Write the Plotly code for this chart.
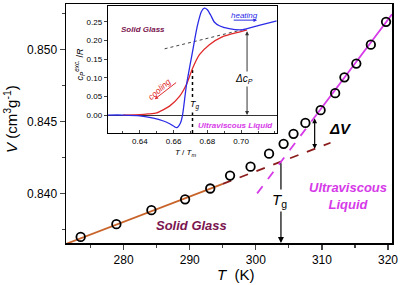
import plotly.graph_objects as go

# ---------------- main panel data ----------------
T_pts = [273.5, 278.9, 284.2, 289.3, 293.1, 296.1, 299.2, 302.0, 304.2, 305.7,
         307.5, 309.8, 312.0, 313.4, 315.2, 317.4, 319.7]
V_pts = [0.83697, 0.83786, 0.83883, 0.83959, 0.84034, 0.84124, 0.84186, 0.84276, 0.84345, 0.84414,
         0.84490, 0.84579, 0.84697, 0.84807, 0.84903, 0.85034, 0.85193]

glass_solid_T = [271.3, 295.0]
glass_solid_V = [0.83649, 0.84066]
glass_dash_T = [295.0, 311.3]
glass_dash_V = [0.84066, 0.84352]
liq_dash_T = [300.2, 309.2]
liq_dash_V = [0.84000, 0.84549]
liq_solid_T = [309.2, 320.6]
liq_solid_V = [0.84549, 0.85245]

Tg_main = 303.8
Vg_main = 0.8422
dV_T = 308.9
dV_low, dV_high = 0.84310, 0.84531

x_ticks = [280, 290, 300, 310, 320]
y_ticks = [0.840, 0.845, 0.850]

# ---------------- inset data ----------------
heat_x = [0.621, 0.630, 0.640, 0.648, 0.654, 0.658, 0.6618, 0.6640, 0.6653, 0.6676, 0.6712,
          0.6741, 0.6765, 0.6782, 0.6800, 0.6820, 0.6841, 0.6871, 0.6929, 0.7006, 0.7106, 0.7212]
heat_y = [0.0, 0.0, -0.002, -0.008, -0.016, -0.024, -0.034, -0.022, 0.0, 0.08, 0.17,
          0.24, 0.278, 0.287, 0.283, 0.268, 0.250, 0.240, 0.232, 0.229, 0.241, 0.253]
cool_x = [0.630, 0.640, 0.645, 0.650, 0.6576, 0.6635, 0.6676, 0.6712, 0.6753, 0.6812, 0.6888, 0.6988, 0.7035]
cool_y = [0.0, 0.001, 0.003, 0.006, 0.024, 0.05, 0.082, 0.125, 0.162, 0.189, 0.21, 0.223, 0.229]
glass_ext_x = [0.6547, 0.7006]
glass_ext_y = [0.178, 0.229]
Tg_inset = 0.6712
Tg_inset_y = [-0.048, 0.125]
dcp_x = 0.7035
dcp_y = [0.0, 0.229]
inset_xticks = [0.64, 0.66, 0.68, 0.70]
inset_yticks = [0.00, 0.05, 0.10, 0.15, 0.20, 0.25]

BLUE = "#2b2be6"
RED = "#e02a2a"
MAG = "#d63ae8"
PURP = "#7b1650"
ORANGE = "#c8642a"
DKRED = "#8b1c1c"
FONT = "Liberation Sans, Arial, sans-serif"

fig = go.Figure()

# main lines
fig.add_trace(go.Scatter(x=glass_solid_T, y=glass_solid_V, mode="lines",
                         line=dict(color=ORANGE, width=1.8)))
fig.add_trace(go.Scatter(x=glass_dash_T, y=glass_dash_V, mode="lines",
                         line=dict(color=DKRED, width=1.8, dash="dash")))
fig.add_trace(go.Scatter(x=liq_dash_T, y=liq_dash_V, mode="lines",
                         line=dict(color=MAG, width=1.8, dash="dash")))
fig.add_trace(go.Scatter(x=liq_solid_T, y=liq_solid_V, mode="lines",
                         line=dict(color=MAG, width=1.8)))
fig.add_trace(go.Scatter(x=T_pts, y=V_pts, mode="markers",
                         marker=dict(symbol="circle-open", size=8.5, color="black",
                                     line=dict(width=1.8, color="black"))))

# inset traces
fig.add_trace(go.Scatter(x=glass_ext_x, y=glass_ext_y, mode="lines", xaxis="x2", yaxis="y2",
                         line=dict(color="#444444", width=1, dash="dot")))
fig.add_trace(go.Scatter(x=[Tg_inset, Tg_inset], y=Tg_inset_y, mode="lines", xaxis="x2", yaxis="y2",
                         line=dict(color="black", width=1.5, dash="dot")))
fig.add_trace(go.Scatter(x=cool_x, y=cool_y, mode="lines", xaxis="x2", yaxis="y2",
                         line=dict(color=RED, width=1.3, shape="spline", smoothing=0.6)))
fig.add_trace(go.Scatter(x=heat_x, y=heat_y, mode="lines", xaxis="x2", yaxis="y2",
                         line=dict(color=BLUE, width=1.3, shape="spline", smoothing=0.6)))

inset_dom_x = [0.128, 0.646]
inset_dom_y = [0.4606, 0.9917]

fig.update_layout(
    width=400, height=285,
    margin=dict(l=66, r=6, t=2, b=42),
    plot_bgcolor="white", paper_bgcolor="white",
    showlegend=False,
    font=dict(family=FONT, color="black", size=12),
    xaxis=dict(range=[271.28, 320.6], tickvals=x_ticks, showline=True, linecolor="black",
               linewidth=1.5, mirror=True, ticks="outside", ticklen=5, tickwidth=1.2,
               ticklabeloverflow="allow",
               minor=dict(ticks="outside", ticklen=3, dtick=5, tick0=275, tickwidth=1.2),
               showgrid=False, zeroline=False, tickfont=dict(size=12)),
    yaxis=dict(range=[0.83655, 0.85317], tickvals=y_ticks, tickformat=".3f", showline=True,
               linecolor="black", linewidth=1.5, mirror=True, ticks="outside", ticklen=5,
               tickwidth=1.2, minor=dict(ticks="outside", ticklen=3, dtick=0.0025, tick0=0.8375,
                                          tickwidth=1.2),
               showgrid=False, zeroline=False, tickfont=dict(size=12)),
    xaxis2=dict(domain=inset_dom_x, anchor="y2", range=[0.621, 0.721], tickvals=inset_xticks,
                tickformat=".2f", showline=True, linecolor="black", linewidth=1, mirror=True,
                ticks="inside", ticklen=3, minor=dict(ticks="inside", ticklen=2, dtick=0.01, tick0=0.63),
                showgrid=False, zeroline=False, tickfont=dict(size=8)),
    yaxis2=dict(domain=inset_dom_y, anchor="x2", range=[-0.048, 0.293], tickvals=inset_yticks,
                tickformat=".2f", showline=True, linecolor="black", linewidth=1, mirror=True,
                ticks="outside", ticklen=3, showgrid=False, zeroline=True, zerolinecolor="#333333",
                zerolinewidth=1, tickfont=dict(size=8)),
)

fig.add_shape(type="rect", xref="paper", yref="paper", x0=inset_dom_x[0], x1=inset_dom_x[1],
              y0=inset_dom_y[0], y1=inset_dom_y[1], fillcolor="white", line=dict(width=0),
              layer="below")

C = dict(xanchor="center", yanchor="middle", showarrow=False)
ann = []
# main panel annotations
ann.append(dict(x=Tg_main, y=0.83655, ax=Tg_main, ay=Vg_main, xref="x", yref="y", axref="x", ayref="y",
                text="", showarrow=True, arrowhead=2, arrowsize=1, arrowwidth=1.2, arrowcolor="black"))
ann.append(dict(x=Tg_main - 0.2, y=0.8395, xref="x", yref="y", bgcolor="white",
                text="<i>T</i><sub>g</sub>", font=dict(size=15), **C))
ann.append(dict(x=dV_T, y=dV_low, ax=dV_T, ay=dV_high, xref="x", yref="y", axref="x", ayref="y",
                text="", showarrow=True, arrowhead=2, arrowsize=0.8, arrowwidth=1.2,
                arrowside="end+start", arrowcolor="black"))
ann.append(dict(x=310.8, y=0.84448, xref="x", yref="y", showarrow=False, xanchor="left", yanchor="middle",
                text="<b><i>ΔV</i></b>", font=dict(size=15)))
ann.append(dict(x=290.2, y=0.83779, xref="x", yref="y",
                text="<b><i>Solid Glass</i></b>", font=dict(size=13, color=PURP), **C))
ann.append(dict(x=314.0, y=0.83979, xref="x", yref="y",
                text="<b><i>Ultraviscous<br>Liquid</i></b>", font=dict(size=13, color=MAG), **C))
ann.append(dict(x=-0.171, y=0.52, xref="paper", yref="paper", textangle=-90,
                text="<i>V</i> (cm<sup>3</sup>g<sup>-1</sup>)", font=dict(size=15), **C))
ann.append(dict(x=0.523, y=-0.133, xref="paper", yref="paper",
                text="<i>T</i>  (K)", font=dict(size=15), **C))

# inset annotations
ann.append(dict(x=Tg_inset + 0.0012, y=0.027, xref="x2", yref="y2", bgcolor="white",
                text="<i>T</i><sub><i>g</i></sub>", font=dict(size=9), **C))
ann.append(dict(x=dcp_x, y=dcp_y[0], ax=dcp_x, ay=dcp_y[1], xref="x2", yref="y2", axref="x2", ayref="y2",
                text="", showarrow=True, arrowhead=2, arrowsize=0.8, arrowwidth=1,
                arrowside="end+start", arrowcolor="#333333"))
ann.append(dict(x=0.7018, y=0.098, xref="x2", yref="y2", bgcolor="white",
                text="<i>Δc</i><sub><i>P</i></sub>", font=dict(size=10), **C))
ann.append(dict(x=0.642, y=0.231, xref="x2", yref="y2",
                text="<b><i>Solid Glass</i></b>", font=dict(size=8, color=PURP), **C))
ann.append(dict(x=0.6965, y=-0.027, xref="x2", yref="y2",
                text="<b><i>Ultraviscous Liquid</i></b>", font=dict(size=8, color=MAG), **C))
ann.append(dict(x=0.702, y=0.268, xref="x2", yref="y2",
                text="<i>heating</i>", font=dict(size=8, color=BLUE), **C))
ann.append(dict(x=0.7094, y=0.255, ax=0.6947, ay=0.255, xref="x2", yref="y2", axref="x2", ayref="y2",
                text="", showarrow=True, arrowhead=2, arrowsize=0.7, arrowwidth=1, arrowcolor=BLUE))
ann.append(dict(x=0.6518, y=0.069, xref="x2", yref="y2", textangle=-42,
                text="<i>cooling</i>", font=dict(size=8.5, color=RED), **C))
ann.append(dict(x=0.6488, y=0.0426, ax=0.6624, ay=0.0904, xref="x2", yref="y2", axref="x2", ayref="y2",
                text="", showarrow=True, arrowhead=2, arrowsize=0.7, arrowwidth=1, arrowcolor=RED))
ann.append(dict(x=0.0427, y=0.747, xref="paper", yref="paper", textangle=-90,
                text="<i>c</i><sub><i>P</i></sub><sup><i>exc.</i></sup> /<i>R</i>", font=dict(size=9), **C))
ann.append(dict(x=0.366, y=0.378, xref="paper", yref="paper",
                text="<i>T</i> / <i>T</i><sub><i>m</i></sub>", font=dict(size=8), **C))

fig.update_layout(annotations=ann)

fig.write_html("out.html", config=dict(staticPlot=True),
               post_script="document.documentElement.style.overflow='hidden';"
                           "document.body.style.overflow='hidden';"
                           "document.body.style.margin='0';document.body.style.padding='0';")
